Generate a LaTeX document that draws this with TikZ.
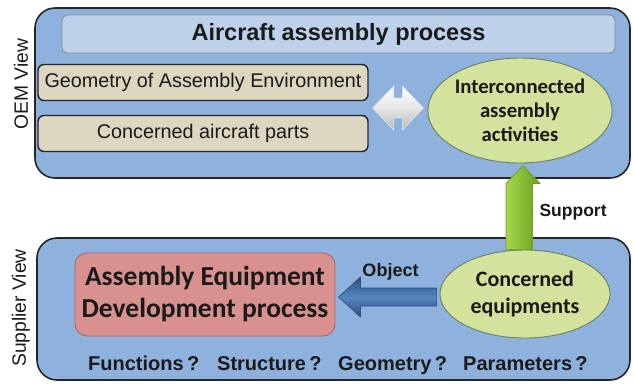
\documentclass[tikz,border=0pt]{standalone}
\usepackage{fontspec}
\setmainfont{Liberation Sans}
\newfontfamily\calib{Carlito}
\usetikzlibrary{shapes.geometric,calc}
\definecolor{panelblue}{HTML}{8FB1DD}
\definecolor{titleblue}{HTML}{BDD1EB}
\definecolor{beige}{HTML}{DDD6C1}
\definecolor{ellgreen}{HTML}{D3E29C}
\definecolor{ellborder}{HTML}{6F7F60}
\definecolor{redfill}{HTML}{D8918E}
\definecolor{redborder}{HTML}{A86A6A}
\definecolor{arrowblue}{HTML}{5585C0}
\definecolor{arrowbluedark}{HTML}{2A4F80}
\definecolor{arrowgreen}{HTML}{A8D64C}
\definecolor{arrowgreendark}{HTML}{6A9E1E}
\definecolor{textdark}{HTML}{1A1A1A}
\tikzset{
  panel/.style={draw=black!85, line width=1.6pt, fill=panelblue, rounded corners=20pt, inner sep=0pt},
  titlebar/.style={draw=black!45, line width=0.8pt, fill=titleblue, rounded corners=6pt,
    minimum width=553pt, minimum height=38pt, inner sep=0pt, font=\fontsize{23.5}{26}\selectfont\bfseries, text=textdark},
  partbox/.style={draw=black!85, line width=1.4pt, fill=beige, rounded corners=6pt,
    minimum width=330pt, minimum height=36pt, inner sep=0pt, font=\fontsize{19.8}{22}\selectfont, text=textdark},
  ellbox/.style={ellipse, draw=ellborder, line width=0.9pt, fill=ellgreen, inner sep=0pt, align=center, text=textdark},
  redbox/.style={draw=redborder, line width=0.9pt, fill=redfill, rounded corners=12pt,
    minimum width=260pt, minimum height=83pt, inner sep=0pt, align=center,
    font=\calib\fontsize{27.5}{32}\selectfont\bfseries, text=textdark},
  viewlabel/.style={rotate=90, font=\fontsize{19.3}{21}\selectfont, text=textdark},
  smalllabel/.style={font=\fontsize{17.5}{20}\selectfont\bfseries, text=textdark},
  question/.style={anchor=base west, inner sep=0pt, font=\fontsize{20}{22}\selectfont\bfseries, text=textdark},
}
\begin{document}
\begin{tikzpicture}[x=1pt,y=-1pt]
\useasboundingbox (0,0) rectangle (634,384);
% panels
\node[panel, minimum width=595pt, minimum height=170pt] (oem) at (332.5,93) {};
\node[panel, minimum width=593pt, minimum height=142pt] (sup) at (333.5,309) {};
\node[viewlabel] (oemlab) at (21,84) {OEM View};
\node[viewlabel] (suplab) at (21,308) {Supplier View};
% top content
\node[titlebar] (title) at (338.5,34) {Aircraft assembly process};
\node[partbox] (geo) at (203,82.5) {Geometry of Assembly Environment};
\node[partbox] (parts) at (203,133.5) {Concerned aircraft parts};
\node[ellbox, minimum width=168pt, minimum height=105pt, font=\calib\fontsize{20.7}{24}\selectfont\bfseries] (inter) at (520,110.5) {Interconnected\\assembly\\activities};
% bottom content
\node[redbox] (aed) at (205,294.5) {Assembly Equipment\\Development process};
\node[ellbox, minimum width=170pt, minimum height=88pt, font=\calib\fontsize{22}{27}\selectfont\bfseries] (conc) at (525,294) {Concerned\\equipments};
\node[question] (qf) at (88,370) {Functions\,?};
\node[question] (qs) at (217,370) {Structure\,?};
\node[question] (qg) at (338,370) {Geometry\,?};
\node[question] (qp) at (463,370) {Parameters\,?};
% gray double arrow
\coordinate (dl) at ($(geo.east)!0.5!(parts.east)+(4,0)$);
\coordinate (dr) at ($(inter.west)+(-4,-2.5)$);
\shade[top color=white, bottom color=gray!55, middle color=gray!20, draw=white!80!gray, line width=0.6pt]
  (dl) -- ++(21,-22) -- ++(0,12) -- ($(dr)+(-21,-10)$) -- ++(0,-12) -- (dr)
  -- ++(-21,22) -- ++(0,-12) -- ($(dl)+(21,10)$) -- ++(0,12) -- cycle;
% green support arrow
\coordinate (gt) at ($(inter.south)+(3,2)$);
\shade[left color=arrowgreen, right color=arrowgreendark, draw=arrowgreendark, line width=0.6pt]
  (gt) -- ++(17,18) -- ++(-7.5,0) |- (conc.north) -- ++(-2,0) -- ++(-17,0) |- ($(gt)+(-17,18)$) -- cycle;
\node[smalllabel, anchor=west] (supp) at (536,212) {Support};
% blue object arrow
\coordinate (bt) at ($(aed.east)+(3,2.5)$);
\shade[top color=arrowbluedark, bottom color=arrowbluedark, middle color=arrowblue, draw=arrowbluedark, line width=0.6pt]
  (bt) -- ++(22,-20) -- ++(0,11) -- ($(conc.west)+(-3,-6)$) -- ++(0,18) -- ($(bt)+(22,9)$) -- ++(0,11) -- cycle;
\node[smalllabel, font=\fontsize{18}{20}\selectfont\bfseries] (obj) at (390.5,272) {Object};
\end{tikzpicture}
\end{document}
